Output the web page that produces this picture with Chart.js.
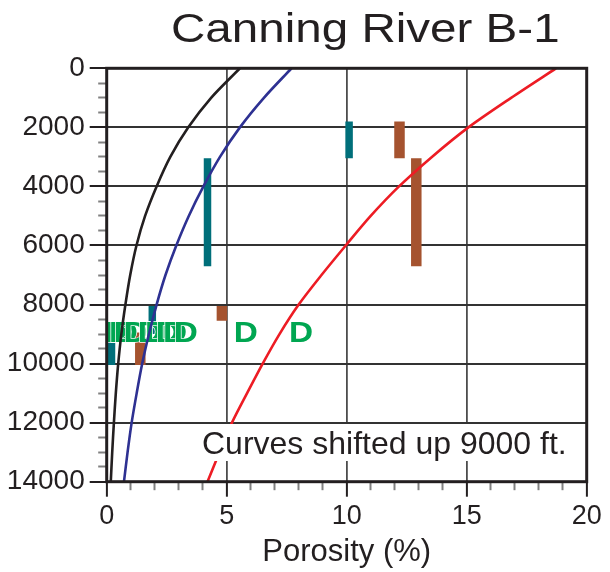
<!DOCTYPE html>
<html>
<head>
<meta charset="utf-8">
<title>Canning River B-1</title>
<script src="https://cdn.jsdelivr.net/npm/chart.js@4.4.0/dist/chart.umd.min.js"></script>
<style>
  html, body { margin: 0; padding: 0; background: #fff; }
  canvas { display: block; }
</style>
</head>
<body>
<canvas id="porosityChart" width="610" height="572"></canvas>
<script>
// depth (ft) of the curve samples
const depths = [0, 1000, 2000, 3000, 4000, 5000, 6000, 7000, 8000, 9000, 10000, 11000, 12000, 13000, 14000];

// porosity trend curves (%), one value per depth
const blackCurve = [5.55, 4.35, 3.4, 2.65, 2.08, 1.6, 1.24, 0.98, 0.78, 0.61, 0.48, 0.38, 0.3, 0.23, 0.17];
const blueCurve = [7.7, 6.55, 5.55, 4.72, 4.03, 3.42, 2.9, 2.45, 2.08, 1.76, 1.48, 1.25, 1.04, 0.87, 0.72];
const redCurve = [18.72, 16.85, 15.07, 13.55, 12.18, 11.0, 9.96, 8.95, 8.0, 7.2, 6.5, 5.85, 5.22, 4.7, 4.2];

// measured intervals: porosity, top and base depth
const tealPorosity = [0.2, 1.9, 4.2, 10.1];
const tealTop = [9000, 8050, 3050, 1800];
const tealBase = [10050, 9000, 6700, 3050];

const brownPorosity = [1.4, 4.8, 12.2, 12.9];
const brownTop = [8950, 8050, 1800, 3050];
const brownBase = [10050, 8550, 3050, 6700];

// "D" samples
const dPorosity = [0.4, 0.6, 0.8, 1.2, 1.8, 2.1, 2.55, 2.85, 3.3, 5.8, 8.1];
const dDepth = 8920;

const xTicks = [0, 5, 10, 15, 20];
const yTicks = [0, 2000, 4000, 6000, 8000, 10000, 12000, 14000];

const ink = '#231f20';
const fontFamily = "'Liberation Sans', Arial, Helvetica, sans-serif";

Chart.defaults.font.family = fontFamily;
Chart.defaults.color = ink;

function curve(values) {
    return depths.map((d, i) => ({ x: values[i], y: d }));
}

function intervals(xs, tops, bases, color, width, order) {
    return xs.map((x, i) => ({
        label: 'interval',
        data: [{ x: x, y: tops[i] }, { x: x, y: bases[i] }],
        borderColor: color,
        borderWidth: width,
        borderCapStyle: 'butt',
        pointRadius: 0,
        order: order
    }));
}

const datasets = [
    { label: 'black', data: curve(blackCurve), borderColor: ink, borderWidth: 2.6, tension: 0.3, pointRadius: 0, order: 0 },
    { label: 'blue', data: curve(blueCurve), borderColor: '#2e3192', borderWidth: 2.6, tension: 0.3, pointRadius: 0, order: 0 },
    { label: 'red', data: curve(redCurve), borderColor: '#ed1c24', borderWidth: 2.6, tension: 0.3, pointRadius: 0, order: 0 },
    { label: 'D', data: dPorosity.map(p => ({ x: p, y: dDepth })), showLine: false, pointRadius: 0, order: 1 },
    ...intervals(brownPorosity, brownTop, brownBase, '#a5532f', 10.5, 2),
    ...intervals(tealPorosity, tealTop, tealBase, '#006f7a', 7.5, 3)
];

// draws each point of the "D" dataset as an outlined letter
const letterPoints = {
    id: 'letterPoints',
    afterDatasetDraw(chart, args) {
        if (chart.data.datasets[args.index].label !== 'D') return;
        const ctx = chart.ctx;
        ctx.save();
        ctx.fillStyle = '#00a651';
        ctx.strokeStyle = '#fff';
        ctx.lineWidth = 1.3;
        ctx.lineJoin = 'round';
        ctx.font = 'bold 29px ' + fontFamily;
        ctx.textAlign = 'center';
        ctx.textBaseline = 'alphabetic';
        args.meta.data.forEach(pt => {
            ctx.save();
            ctx.translate(pt.x, pt.y + 10.4);
            ctx.scale(1.15, 1);
            ctx.strokeText('D', 0, 0);
            ctx.fillText('D', 0, 0);
            ctx.restore();
        });
        ctx.restore();
    }
};

// note box, outer frame and heading
const decorations = {
    id: 'decorations',
    afterDatasetsDraw(chart) {
        const { ctx, chartArea: a } = chart;
        ctx.save();
        ctx.fillStyle = '#fff';
        ctx.fillRect(196, 424, a.right - 196, 37);
        ctx.fillStyle = ink;
        ctx.font = '32px ' + fontFamily;
        ctx.textAlign = 'left';
        ctx.textBaseline = 'alphabetic';
        ctx.fillText('Curves shifted up 9000 ft.', 202, 453.5);

        ctx.strokeStyle = ink;
        ctx.lineWidth = 3;
        ctx.strokeRect(a.left, a.top, a.right - a.left, a.bottom - a.top);
        ctx.restore();
    },
    afterDraw(chart) {
        const ctx = chart.ctx;
        ctx.save();
        ctx.fillStyle = ink;
        ctx.font = '41px ' + fontFamily;
        ctx.textAlign = 'left';
        ctx.textBaseline = 'alphabetic';
        ctx.translate(171, 41.7);
        ctx.scale(1.16, 1);
        ctx.fillText('Canning River B-1', 0, 0);
        ctx.restore();
    }
};

const minorTick = major => ctx => (ctx.tick.value % major === 0 ? 'rgba(0,0,0,0)' : '#808080');

new Chart(document.getElementById('porosityChart'), {
    type: 'line',
    data: { datasets: datasets },
    plugins: [letterPoints, decorations],
    options: {
        responsive: false,
        animation: false,
        devicePixelRatio: 1,
        layout: { padding: { top: 68.3, right: 23.3, bottom: 0, left: 0 } },
        plugins: { legend: { display: false }, tooltip: { enabled: false } },
        scales: {
            x: {
                type: 'linear', position: 'bottom', min: 0, max: 20, weight: 1,
                afterBuildTicks: s => { s.ticks = xTicks.map(v => ({ value: v })); },
                afterFit: s => { s.height = 90.3; },
                ticks: { font: { size: 27 }, padding: 4, color: ink, maxRotation: 0, autoSkip: false },
                grid: { color: '#4d4d4d', lineWidth: 1.8, tickLength: 15, tickColor: ink, tickWidth: 2 },
                border: { display: false },
                title: { display: true, text: 'Porosity (%)', font: { size: 31 }, color: ink, padding: { top: 0, bottom: 1 } }
            },
            xMinor: {
                type: 'linear', position: 'bottom', min: 0, max: 20, weight: 0,
                afterFit: s => { s.height = 0; },
                ticks: { display: false, stepSize: 1, autoSkip: false },
                grid: { drawOnChartArea: false, tickLength: 8.5, tickColor: minorTick(5), tickWidth: 2 },
                border: { display: false }
            },
            y: {
                type: 'linear', position: 'left', reverse: true, min: 0, max: 14000, weight: 1,
                afterBuildTicks: s => { s.ticks = yTicks.map(v => ({ value: v })); },
                afterFit: s => { s.width = 106.7; },
                ticks: { font: { size: 28 }, padding: 5, color: ink, callback: v => String(v) },
                grid: { color: '#333', lineWidth: 2, tickLength: 17, tickColor: ink, tickWidth: 2 },
                border: { display: false }
            },
            yMinor: {
                type: 'linear', position: 'left', reverse: true, min: 0, max: 14000, weight: 0,
                afterFit: s => { s.width = 0; },
                ticks: { display: false, stepSize: 500, autoSkip: false },
                grid: { drawOnChartArea: false, tickLength: 8.5, tickColor: minorTick(2000), tickWidth: 2 },
                border: { display: false }
            }
        }
    }
});
</script>
</body>
</html>
